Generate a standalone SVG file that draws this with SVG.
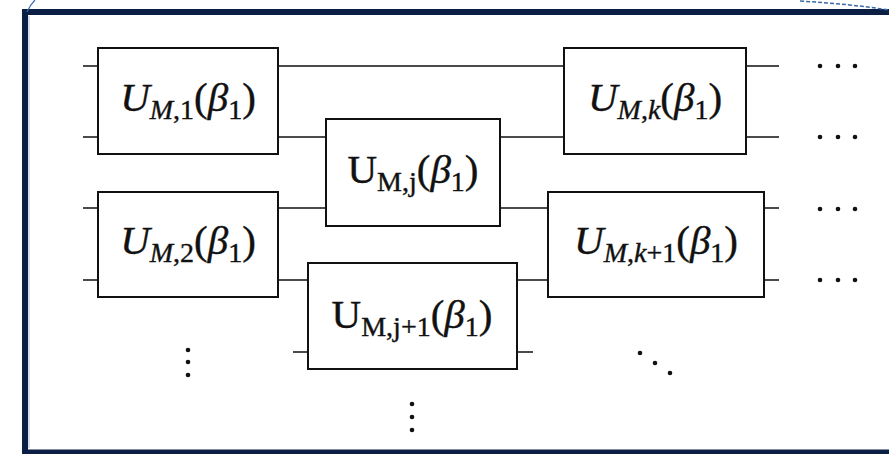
<svg xmlns="http://www.w3.org/2000/svg" width="889" height="454" viewBox="0 0 889 454">
  <style>
    .gate { fill: #ffffff; stroke: #111111; stroke-width: 2; }
    .wire { fill: none; stroke: #111111; stroke-width: 1.6; }
    .lbl { font-family: "Liberation Serif", "DejaVu Serif", serif; font-size: 41px; fill: #111111; stroke: #111111; stroke-width: 0.4; text-anchor: middle; }
    .it { font-style: italic; }
    .sub { font-size: 28px; }
    .dot { fill: #111111; }
  </style>

  <rect x="0" y="0" width="889" height="454" fill="#ffffff"/>

  <!-- outer frame -->
  <g id="frame">
    <path d="M25,454 V12 H889" fill="none" stroke="#0b1f45" stroke-width="6"/>
    <path d="M22,452 H889" fill="none" stroke="#0b1f45" stroke-width="5"/>
    <path d="M29,16 V448" fill="none" stroke="#a9c1dc" stroke-width="1"/>
    <path d="M27,12 Q30,5 35,0" fill="none" stroke="#3a6aa8" stroke-width="1.2"/>
    <path d="M800,1 Q850,4 889,10" fill="none" stroke="#3a6aa8" stroke-width="1.5" stroke-dasharray="4 2"/>
  </g>

  <!-- wires -->
  <g id="connectors">
    <path class="wire" d="M83,66 H98 M83,137 H98 M83,208 H98 M83,280 H98"/>
    <path class="wire" d="M278,66 H564 M278,137 H326 M500,137 H564"/>
    <path class="wire" d="M278,208 H326 M500,208 H548"/>
    <path class="wire" d="M278,280 H308 M517,280 H548"/>
    <path class="wire" d="M293,352 H308 M517,352 H533"/>
    <path class="wire" d="M746,66 H779 M746,137 H779 M764,208 H779 M764,280 H779"/>
  </g>

  <g id="gate-m1">
    <rect class="gate" x="98" y="48" width="180" height="106"/>
    <text class="lbl" x="188" y="111"><tspan class="it">U</tspan><tspan class="sub it" dy="8">M</tspan><tspan class="sub">,1</tspan><tspan dy="-8">(</tspan><tspan class="it">β</tspan><tspan class="sub" dy="8">1</tspan><tspan dy="-8">)</tspan></text>
  </g>

  <g id="gate-m2">
    <rect class="gate" x="98" y="192" width="180" height="105"/>
    <text class="lbl" x="188" y="254"><tspan class="it">U</tspan><tspan class="sub it" dy="8">M</tspan><tspan class="sub">,2</tspan><tspan dy="-8">(</tspan><tspan class="it">β</tspan><tspan class="sub" dy="8">1</tspan><tspan dy="-8">)</tspan></text>
  </g>

  <g id="gate-mj">
    <rect class="gate" x="326" y="119" width="174" height="107"/>
    <text class="lbl" x="413" y="183"><tspan>U</tspan><tspan class="sub" dy="8">M,j</tspan><tspan dy="-8">(</tspan><tspan class="it">β</tspan><tspan class="sub" dy="8">1</tspan><tspan dy="-8">)</tspan></text>
  </g>

  <g id="gate-mj1">
    <rect class="gate" x="308" y="263" width="209" height="106"/>
    <text class="lbl" x="412" y="328"><tspan>U</tspan><tspan class="sub" dy="8">M,j+1</tspan><tspan dy="-8">(</tspan><tspan class="it">β</tspan><tspan class="sub" dy="8">1</tspan><tspan dy="-8">)</tspan></text>
  </g>

  <g id="gate-mk">
    <rect class="gate" x="564" y="48" width="182" height="106"/>
    <text class="lbl" x="655" y="111"><tspan class="it">U</tspan><tspan class="sub it" dy="8">M</tspan><tspan class="sub">,</tspan><tspan class="sub it">k</tspan><tspan dy="-8">(</tspan><tspan class="it">β</tspan><tspan class="sub" dy="8">1</tspan><tspan dy="-8">)</tspan></text>
  </g>

  <g id="gate-mk1">
    <rect class="gate" x="548" y="192" width="216" height="105"/>
    <text class="lbl" x="656" y="254"><tspan class="it">U</tspan><tspan class="sub it" dy="8">M</tspan><tspan class="sub">,</tspan><tspan class="sub it">k</tspan><tspan class="sub">+1</tspan><tspan dy="-8">(</tspan><tspan class="it">β</tspan><tspan class="sub" dy="8">1</tspan><tspan dy="-8">)</tspan></text>
  </g>

  <!-- continuation dots -->
  <g id="ellipses">
    <circle class="dot" cx="820" cy="66" r="2.3"/><circle class="dot" cx="838" cy="66" r="2.3"/><circle class="dot" cx="855" cy="66" r="2.3"/>
    <circle class="dot" cx="820" cy="137" r="2.3"/><circle class="dot" cx="838" cy="137" r="2.3"/><circle class="dot" cx="855" cy="137" r="2.3"/>
    <circle class="dot" cx="820" cy="209" r="2.3"/><circle class="dot" cx="838" cy="209" r="2.3"/><circle class="dot" cx="855" cy="209" r="2.3"/>
    <circle class="dot" cx="820" cy="280" r="2.3"/><circle class="dot" cx="838" cy="280" r="2.3"/><circle class="dot" cx="855" cy="280" r="2.3"/>
    <circle class="dot" cx="188" cy="350" r="2.3"/><circle class="dot" cx="188" cy="362" r="2.3"/><circle class="dot" cx="188" cy="375" r="2.3"/>
    <circle class="dot" cx="412" cy="404" r="2.3"/><circle class="dot" cx="412" cy="417" r="2.3"/><circle class="dot" cx="412" cy="430" r="2.3"/>
    <circle class="dot" cx="640" cy="353" r="2.3"/><circle class="dot" cx="655" cy="363" r="2.3"/><circle class="dot" cx="670" cy="373" r="2.3"/>
  </g>
</svg>
